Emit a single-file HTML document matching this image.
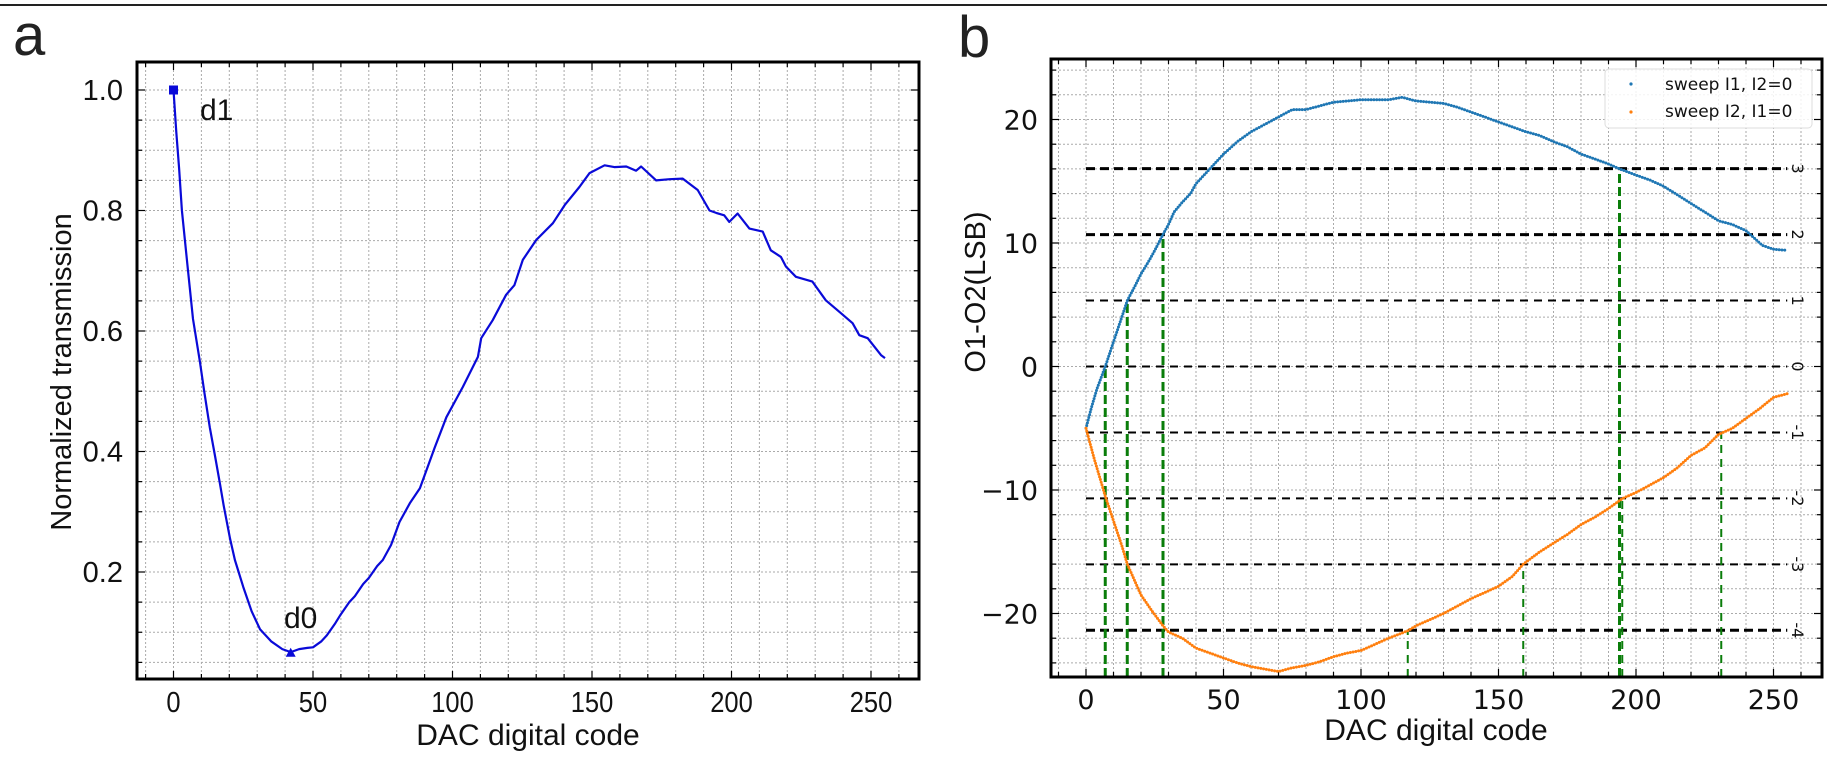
<!DOCTYPE html>
<html><head><meta charset="utf-8"><style>
html,body{margin:0;padding:0;background:#fff;}
svg{display:block;}
</style></head><body>
<svg id="fig" width="1840" height="768" viewBox="0 0 1840 768" xmlns="http://www.w3.org/2000/svg">
<line x1="0" y1="5" x2="1827" y2="5" stroke="#222" stroke-width="2"/>
<text x="13" y="55" font-family="Liberation Sans, sans-serif" font-size="58" fill="#222">a</text>
<text x="958" y="57" font-family="Liberation Sans, sans-serif" font-size="58" fill="#222">b</text>
<g id="pa"></g>
<g id="pb"></g>
</svg>
<script>
// ---------- Panel a data ----------
const aCodes = [0,1,2,3,5,7,9.5,11,13,15,16.7,18,20.3,22,25,28,31,35,39,42,45,48,50,53,55,58,60,63,65,68,70,73,75,78,81,84.7,88.3,93.6,97.8,103.7,109.1,110.3,114.4,119.2,122.2,125.2,130,136,140.2,145.5,149.1,154.5,158,162.3,165.8,167.6,173,177.8,182.5,187.9,192.1,194.5,197.4,199.2,202.2,206.4,211.2,214.1,217.7,219.5,223.1,229,233.8,238.6,243.4,245.8,248.8,253.6,255];
const aTrans = [1.0,0.93,0.87,0.80,0.71,0.62,0.548,0.5,0.44,0.39,0.345,0.31,0.255,0.22,0.175,0.135,0.105,0.085,0.072,0.067,0.072,0.074,0.075,0.085,0.095,0.115,0.13,0.15,0.16,0.18,0.19,0.21,0.22,0.245,0.283,0.314,0.339,0.406,0.457,0.507,0.557,0.588,0.618,0.66,0.676,0.718,0.751,0.779,0.809,0.839,0.862,0.875,0.872,0.873,0.866,0.873,0.85,0.852,0.853,0.834,0.80,0.796,0.792,0.781,0.795,0.77,0.765,0.734,0.723,0.707,0.69,0.682,0.651,0.632,0.613,0.593,0.588,0.56,0.555];
const aXTicks = [0,50,100,150,200,250];
const aYTicks = [0.2,0.4,0.6,0.8,1.0];
const aD1 = [0,1.0];
const aD0 = [42,0.066];

// ---------- Panel b data ----------
const bCodes1 = [0,2,4,7,10,13,15,18,20,23,25,28,30,32,35,38,40,45,50,55,60,65,70,75,80,85,90,95,100,105,110,115,120,125,130,135,140,145,150,155,160,165,170,175,180,185,190,194,200,205,210,215,220,225,230,235,240,243,246,250,255];
const bSweep1 = [-5,-3.3,-1.8,0,2,4,5.34,6.6,7.5,8.6,9.4,10.7,11.5,12.5,13.3,14,14.8,16,17.2,18.2,19,19.6,20.2,20.8,20.8,21.1,21.4,21.5,21.6,21.6,21.6,21.8,21.5,21.4,21.3,21,20.6,20.2,19.8,19.4,19,18.7,18.2,17.8,17.2,16.8,16.4,16.0,15.5,15.1,14.6,13.9,13.2,12.5,11.8,11.5,11,10.4,9.8,9.5,9.4];
const bCodes2 = [0,3,5,7,10,13,15,18,20,24,28,30,35,40,45,50,55,60,65,70,75,80,85,90,95,100,105,110,117,120,125,130,135,140,145,150,155,159,165,170,175,180,185,190,195,200,205,210,215,220,225,230,235,240,245,250,255];
const bSweep2 = [-5,-7.5,-9,-10.5,-12.5,-14.5,-16,-17.5,-18.5,-19.8,-21,-21.5,-22,-22.8,-23.2,-23.6,-24,-24.3,-24.5,-24.7,-24.4,-24.2,-23.9,-23.5,-23.2,-23,-22.5,-22,-21.4,-21,-20.5,-20,-19.4,-18.8,-18.3,-17.8,-17,-16,-15,-14.3,-13.6,-12.8,-12.2,-11.5,-10.7,-10.2,-9.6,-9,-8.2,-7.2,-6.6,-5.5,-5,-4.2,-3.4,-2.5,-2.2];
const bXTicks = [0,50,100,150,200,250];
const bYTicks = [-20,-10,0,10,20];
const bLevelStep = 5.34;
const bLevels = [3,2,1,0,-1,-2,-3,-4];
const bLevelLabels = ["3","2","1","0","-1","-2","-3","-4"];
const bLevelThick = [true,true,false,false,false,false,false,true];
// vertical markers: [code, level]
const bCrossCodes = [7,15,28,194,117,159,195,231];
const bCrossLevels = [0,1,2,3,-4,-3,-2,-1];
const bCrossThick = [true,true,true,true,false,false,false,false];

const NS = "http://www.w3.org/2000/svg";
function mk(parent, tag, attrs){ const e=document.createElementNS(NS,tag); for(const k in attrs) e.setAttribute(k,attrs[k]); parent.appendChild(e); return e; }

// ---------- Panel a ----------
(function(){
  const g = document.getElementById('pa');
  const L=137,R=919,T=62,B=679;
  const ax = v => 173.5 + v*2.79;
  const ay = v => 572 - (v-0.2)*602.5;
  const grid = mk(g,'g',{});
  
  
  for(let v=-10; ax(v)<R; v+=10){ if(ax(v)<=L) continue;
    const l=mk(grid,'line',{x1:ax(v),x2:ax(v),y1:T,y2:B,stroke:'#aaa','stroke-width':1,'stroke-dasharray':'2 2'});
      }
  for(let i=1;i<=21;i++){ const v=i*0.05; const y=ay(v); if(y<=T||y>=B) continue;
    const l=mk(grid,'line',{x1:L,x2:R,y1:y,y2:y,stroke:'#aaa','stroke-width':1,'stroke-dasharray':'2 2'});
      }
  // inward minor ticks
  for(let v=-10; ax(v)<R; v+=10){ if(ax(v)<=L) continue;
    const len = (v%50===0)?8:5;
    mk(grid,'line',{x1:ax(v),x2:ax(v),y1:B,y2:B-len,stroke:'#000','stroke-width':1.2});
    mk(grid,'line',{x1:ax(v),x2:ax(v),y1:T,y2:T+len,stroke:'#000','stroke-width':1.2}); }
  for(let i=1;i<=21;i++){ const v=i*0.05; const y=ay(v); if(y<=T||y>=B) continue;
    const len = (Math.round(v*100)%20===0)?8:5;
    mk(grid,'line',{x1:L,x2:L+len,y1:y,y2:y,stroke:'#000','stroke-width':1.2});
    mk(grid,'line',{x1:R,x2:R-len,y1:y,y2:y,stroke:'#000','stroke-width':1.2}); }
  const pts = aCodes.map((c,i)=>ax(c).toFixed(1)+','+ay(aTrans[i]).toFixed(1)).join(' ');
  const line = mk(g,'polyline',{points:pts,fill:'none',stroke:'#0a0ad8','stroke-width':2.2,'stroke-linejoin':'round'});
  
  
  const sq = mk(g,'rect',{x:ax(aD1[0])-4.5,y:ay(aD1[1])-4.5,width:9,height:9,fill:'#0a0ad8'});
  
  
  const tx=ax(aD0[0]), ty=ay(aD0[1]);
  const tri = mk(g,'polygon',{points:`${tx-5},${ty+4} ${tx+5},${ty+4} ${tx},${ty-5}`,fill:'#0a0ad8'});
  
  
  const t1=mk(g,'text',{x:200,y:120,'font-family':'Liberation Sans, sans-serif','font-size':30,fill:'#111'}); t1.textContent='d1';
   
  const t0=mk(g,'text',{x:284,y:628,'font-family':'Liberation Sans, sans-serif','font-size':30,fill:'#111'}); t0.textContent='d0';
   
  const fr = mk(g,'rect',{x:L,y:T,width:R-L,height:B-T,fill:'none',stroke:'#000','stroke-width':3});
   
  aXTicks.forEach(v=>{ const t=mk(g,'text',{x:ax(v),y:712,'text-anchor':'middle','font-family':'Liberation Sans, sans-serif','font-size':29,fill:'#111',transform:`translate(${ax(v)},0) scale(0.88,1) translate(${-ax(v)},0)`}); t.textContent=v;
      });
  aYTicks.forEach(v=>{ const t=mk(g,'text',{x:123,y:ay(v)+10,'text-anchor':'end','font-family':'Liberation Sans, sans-serif','font-size':29,fill:'#111'}); t.textContent=v.toFixed(1);
      });
  const xt=mk(g,'text',{x:528,y:745,'text-anchor':'middle','font-family':'Liberation Sans, sans-serif','font-size':30,fill:'#111'}); xt.textContent='DAC digital code';
   
  const yt=mk(g,'text',{x:0,y:0,'text-anchor':'middle','font-family':'Liberation Sans, sans-serif','font-size':29,fill:'#111',transform:'translate(71,372) rotate(-90)'}); yt.textContent='Normalized transmission';
   
})();

// ---------- Panel b ----------
(function(){
  const g = document.getElementById('pb');
  const L=1051,R=1822,T=59,B=677;
  const bx = v => 1086 + v*2.75;
  const by = v => 366.5 - v*12.35;
  const grid = mk(g,'g',{});
  
  
  for(let v=-10; bx(v)<R; v+=10){ if(bx(v)<=L) continue;
    const l=mk(grid,'line',{x1:bx(v),x2:bx(v),y1:T,y2:B,stroke:'#aaa','stroke-width':1,'stroke-dasharray':'2 2'});
     
    const len=(v%50===0)?8:5;
    mk(grid,'line',{x1:bx(v),x2:bx(v),y1:B,y2:B-len,stroke:'#000','stroke-width':1.2});
    mk(grid,'line',{x1:bx(v),x2:bx(v),y1:T,y2:T+len,stroke:'#000','stroke-width':1.2}); }
  for(let v=-24; v<=24; v+=2){ const y=by(v);
    const l=mk(grid,'line',{x1:L,x2:R,y1:y,y2:y,stroke:'#aaa','stroke-width':1,'stroke-dasharray':'2 2'});
     
    const len=(v%10===0)?8:5;
    mk(grid,'line',{x1:L,x2:L+len,y1:y,y2:y,stroke:'#000','stroke-width':1.2});
    mk(grid,'line',{x1:R,x2:R-len,y1:y,y2:y,stroke:'#000','stroke-width':1.2}); }
  // level lines
  bLevels.forEach((lv,i)=>{ const y=by(lv*bLevelStep);
    const l=mk(g,'line',{x1:bx(0),x2:bx(255),y1:y,y2:y,stroke:'#000','stroke-width':bLevelThick[i]?3:2,'stroke-dasharray':bLevelThick[i]?'9 5':'8 6'});
     
    const t=mk(g,'text',{x:0,y:0,'text-anchor':'middle','font-family':'DejaVu Sans, sans-serif','font-size':16,fill:'#111',transform:`translate(1792,${y}) rotate(90)`}); t.textContent=bLevelLabels[i];
      });
  // green crossing lines
  bCrossCodes.forEach((c,i)=>{ const y=by(bCrossLevels[i]*bLevelStep);
    const l=mk(g,'line',{x1:bx(c),x2:bx(c),y1:B,y2:y,stroke:'#0a7d0a','stroke-width':bCrossThick[i]?3:2,'stroke-dasharray':bCrossThick[i]?'9 4':'8 6'});
      });
  const p1 = bCodes1.map((c,i)=>bx(c).toFixed(1)+','+by(bSweep1[i]).toFixed(1)).join(' ');
  const s1 = mk(g,'polyline',{points:p1,fill:'none',stroke:'#1f77b4','stroke-width':3,'stroke-linecap':'round','stroke-dasharray':'0 2.8'});
   
  const p2 = bCodes2.map((c,i)=>bx(c).toFixed(1)+','+by(bSweep2[i]).toFixed(1)).join(' ');
  const s2 = mk(g,'polyline',{points:p2,fill:'none',stroke:'#ff7f0e','stroke-width':3,'stroke-linecap':'round','stroke-dasharray':'0 2.8'});
   
  // legend
  const lg = mk(g,'g',{});
   
  mk(lg,'rect',{x:1605,y:69,width:207,height:59,rx:4,fill:'#fff','fill-opacity':0.85,stroke:'#ddd','stroke-width':1});
  mk(lg,'circle',{cx:1631,cy:84,r:1.6,fill:'#1f77b4'});
  mk(lg,'circle',{cx:1631,cy:112,r:1.6,fill:'#ff7f0e'});
  const l1=mk(lg,'text',{x:1665,y:90,'font-family':'DejaVu Sans, sans-serif','font-size':17,fill:'#111'}); l1.textContent='sweep I1, I2=0';
   
  const l2=mk(lg,'text',{x:1665,y:117,'font-family':'DejaVu Sans, sans-serif','font-size':17,fill:'#111'}); l2.textContent='sweep I2, I1=0';
   
  const fr = mk(g,'rect',{x:L,y:T,width:R-L,height:B-T,fill:'none',stroke:'#000','stroke-width':3});
   
  bXTicks.forEach(v=>{ const t=mk(g,'text',{x:bx(v),y:709,'text-anchor':'middle','font-family':'DejaVu Sans, sans-serif','font-size':27,fill:'#111'}); t.textContent=v;
      });
  bYTicks.forEach(v=>{ const t=mk(g,'text',{x:1038,y:by(v)+10,'text-anchor':'end','font-family':'DejaVu Sans, sans-serif','font-size':27,fill:'#111'}); t.textContent=(v<0?'\u2212':'')+Math.abs(v);
      });
  const xt=mk(g,'text',{x:1436,y:740,'text-anchor':'middle','font-family':'Liberation Sans, sans-serif','font-size':30,fill:'#111'}); xt.textContent='DAC digital code';
   
  const yt=mk(g,'text',{x:0,y:0,'text-anchor':'middle','font-family':'Liberation Sans, sans-serif','font-size':29,fill:'#111',transform:'translate(985,292) rotate(-90)'}); yt.textContent='O1-O2(LSB)';
   
})();
</script>
</body></html>
